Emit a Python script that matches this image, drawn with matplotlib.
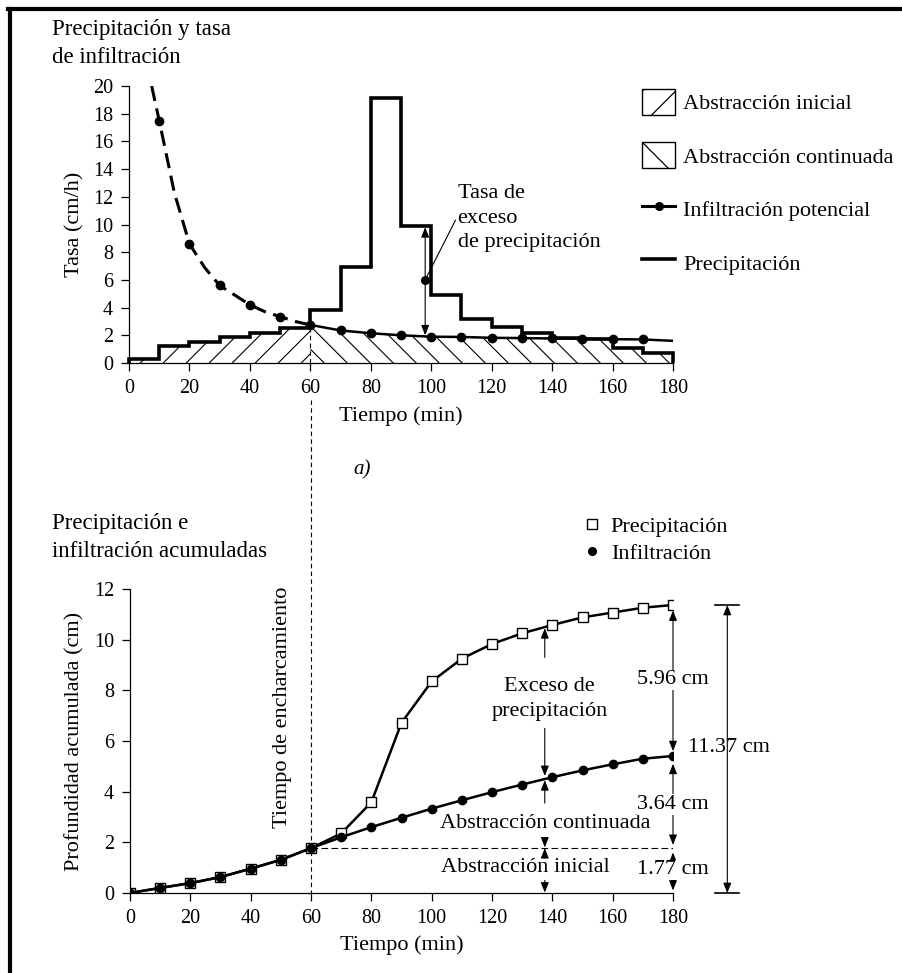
import numpy as np
import matplotlib
matplotlib.use('Agg')
import matplotlib.pyplot as plt
import matplotlib.transforms as mtransforms
from matplotlib.patches import Polygon, Patch
from matplotlib.lines import Line2D

plt.rcParams['font.family'] = ['Liberation Serif', 'DejaVu Serif']
plt.rcParams['hatch.linewidth'] = 0.9
plt.rcParams['axes.linewidth'] = 0.9

# --- datos (a): hietograma y tasa de infiltracion ---
rain_edges = [0, 10, 20, 30, 40, 50, 60, 70, 80, 90, 100, 110, 120, 130, 140, 150, 160, 170, 180]
rain_rate = [0.3, 1.2, 1.55, 1.9, 2.2, 2.5, 3.8, 6.9, 19.1, 9.9, 4.9, 3.2, 2.6, 2.2, 1.8, 1.7, 1.1, 0.7]

# curva de infiltracion potencial antes del encharcamiento (discontinua)
inf_dash_t = [7.5, 10, 15, 20, 25, 30, 35, 40, 45, 50, 55, 60]
inf_dash_rate = [20.0, 17.5, 12.3, 8.6, 6.9, 5.6, 4.9, 4.2, 3.7, 3.35, 3.0, 2.75]
# despues del encharcamiento (continua)
inf_solid_t = [60, 70, 80, 90, 100, 110, 120, 130, 140, 150, 160, 170, 180]
inf_solid_rate = [2.75, 2.35, 2.15, 2.0, 1.9, 1.88, 1.82, 1.8, 1.77, 1.75, 1.72, 1.7, 1.6]
# puntos marcados
inf_mark_t = [10, 20, 30, 40, 50, 60, 70, 80, 90, 100, 110, 120, 130, 140, 150, 160, 170]
inf_mark_rate = [17.5, 8.6, 5.6, 4.2, 3.35, 2.75, 2.35, 2.15, 2.0, 1.9, 1.88, 1.82, 1.8, 1.77, 1.75, 1.72, 1.7]

# --- datos (b): acumulados ---
cum_t = [0, 10, 20, 30, 40, 50, 60, 70, 80, 90, 100, 110, 120, 130, 140, 150, 160, 170, 180]
cum_rain = [0, 0.2, 0.39, 0.63, 0.96, 1.31, 1.77, 2.35, 3.58, 6.72, 8.35, 9.25, 9.83, 10.25,
            10.58, 10.88, 11.07, 11.26, 11.37]
cum_inf = [0, 0.2, 0.39, 0.63, 0.96, 1.31, 1.77, 2.2, 2.6, 2.97, 3.33, 3.66, 3.98, 4.28,
           4.57, 4.84, 5.08, 5.3, 5.41]

W, H = 903, 973
fig = plt.figure(figsize=(W / 100, H / 100), dpi=100)


def fx(px):
    return px / W


def fy(py):
    return 1 - py / H


ax1 = fig.add_axes([fx(129), fy(363), (673 - 129) / W, (363 - 86) / H])
ax2 = fig.add_axes([fx(130), fy(893), (673 - 130) / W, (893 - 589) / H])

for ax in (ax1, ax2):
    ax.spines[['top', 'right']].set_visible(False)
    ax.tick_params(direction='out', length=5.5, width=0.9, labelsize=14.5, pad=6)
    ax.set_xlim(0, 180)
    ax.set_xticks(range(0, 181, 20))
ax1.set_ylim(0, 20)
ax1.set_yticks(range(0, 21, 2))
ax2.set_ylim(0, 12)
ax2.set_yticks(range(0, 13, 2))


def hatch_region(ax, xs, ys, direction, step_px=23):
    poly = Polygon(np.column_stack([xs, ys]), closed=True, fc='none', ec='none')
    ax.add_patch(poly)
    bb = ax.get_position()
    ppx = bb.width * W / 180
    ppy = bb.height * H / (ax.get_ylim()[1] - ax.get_ylim()[0])
    k = direction * ppx / ppy
    for c in np.arange(-80, 280, step_px / ppx):
        xx = np.array([c - 120, c + 120])
        ax.plot(xx, k * (xx - c), color='black', lw=0.8, clip_path=poly)


# abstraccion inicial: bajo la lluvia hasta t=60
hx, hy = [0], [0]
for i in range(6):
    hx += [rain_edges[i], rain_edges[i + 1]]
    hy += [rain_rate[i], rain_rate[i]]
hx.append(60)
hy.append(0)
hatch_region(ax1, hx, hy, 1)

# abstraccion continuada: bajo min(infiltracion, lluvia) desde t=60
grid = np.linspace(60, 180, 1201)
f_top = np.interp(grid, inf_solid_t, inf_solid_rate)
idx = np.clip(np.searchsorted(rain_edges, grid, side='right') - 1, 0, len(rain_rate) - 1)
top = np.minimum(f_top, np.array(rain_rate)[idx])
hatch_region(ax1, np.r_[60, grid, 180], np.r_[0, top, 0], -1)

ax1.stairs(rain_rate, rain_edges, baseline=0, color='black', lw=2.6, clip_on=False, zorder=4)
ax1.plot(inf_dash_t, inf_dash_rate, color='black', lw=2.2, dashes=(5, 2.5), zorder=5)
ax1.plot(inf_solid_t, inf_solid_rate, color='black', lw=1.8, zorder=5)
ax1.plot(inf_mark_t, inf_mark_rate, 'o', color='black', ms=6, zorder=6)
ax1.plot([60, 60], [0, 2.75], color='black', lw=0.8, dashes=(4, 3))

arw = '<|-|>,head_length=0.5,head_width=0.2'
ax1.annotate('', xy=(98, 9.8), xytext=(98, 2.0),
             arrowprops=dict(arrowstyle=arw, color='black', lw=0.8,
                             shrinkA=0, shrinkB=0, mutation_scale=12))
ax1.plot([98], [6], 'o', color='black', ms=5.5)
ax1.plot([98, 108], [6, 10.3], color='black', lw=0.8)
ax1.text(108.7, 10.45, 'Tasa de\nexceso\nde precipitación', ha='left', va='center',
         fontsize=16, linespacing=1.38)

ax1.set_xlabel('Tiempo (min)', fontsize=16, labelpad=6)
ax1.set_ylabel('Tasa (cm/h)', fontsize=16, labelpad=6)

handles1 = [Patch(fc='white', ec='black', hatch='/', lw=1),
            Patch(fc='white', ec='black', hatch='\\', lw=1),
            Line2D([], [], color='black', lw=2.2, marker='o', ms=5.5),
            Line2D([], [], color='black', lw=2.6)]
labels1 = ['Abstracción inicial', 'Abstracción continuada', 'Infiltración potencial', 'Precipitación']
ax1.legend(handles1, labels1, loc='upper left', bbox_to_anchor=(fx(642), fy(89)),
           bbox_transform=fig.transFigure, frameon=False, fontsize=16,
           handlelength=1.5, handleheight=1.4, handletextpad=0.35,
           labelspacing=1.25, borderpad=0, borderaxespad=0)

# --- (b) ---
ax2.plot(cum_t, cum_rain, '-', color='black', lw=1.8, marker='s', ms=7.5,
         mfc='white', mec='black', mew=1, zorder=4)
ax2.plot(cum_t, cum_inf, '-', color='black', lw=1.8, marker='o', ms=6, zorder=5)
ax2.plot([60, 180], [1.77, 1.77], color='black', lw=0.8, dashes=(6, 3))

ax2.set_xlabel('Tiempo (min)', fontsize=16, labelpad=5)
ax2.set_ylabel('Profundidad acumulada (cm)', fontsize=16, labelpad=6.5)

handles2 = [Line2D([], [], ls='none', marker='s', ms=7, mfc='white', mec='black', mew=1),
            Line2D([], [], ls='none', marker='o', ms=5.5, color='black')]
ax2.legend(handles2, ['Precipitación', 'Infiltración'], loc='upper left',
           bbox_to_anchor=(fx(583), fy(516)), bbox_transform=fig.transFigure,
           frameon=False, fontsize=16, handlelength=0.8, handletextpad=0.45,
           labelspacing=0.3, borderpad=0, borderaxespad=0)


def arrow(ax, x, y0, y1, style='-|>'):
    ax.annotate('', xy=(x, y1), xytext=(x, y0), annotation_clip=False,
                arrowprops=dict(arrowstyle=style + ',head_length=0.5,head_width=0.2',
                                color='black', lw=0.8, shrinkA=0, shrinkB=0,
                                mutation_scale=12))


arrow(ax2, 137.5, 9.3, 10.45)
ax2.text(139, 7.66, 'Exceso de\nprecipitación', ha='center', va='center', fontsize=16,
         linespacing=1.38)
arrow(ax2, 137.5, 6.5, 4.62)
arrow(ax2, 137.5, 3.55, 4.45)
ax2.text(137.6, 2.76, 'Abstracción continuada', ha='center', va='center', fontsize=16)
arrow(ax2, 137.5, 2.2, 1.8)
arrow(ax2, 137.5, 1.38, 1.77)
ax2.text(131, 0.99, 'Abstracción inicial', ha='center', va='center', fontsize=16)
arrow(ax2, 137.5, 0.5, 0.02)

arrow(ax2, 180, 5.6, 11.15, '<|-|>')
arrow(ax2, 180, 5.1, 1.9, '<|-|>')
arrow(ax2, 180, 1.6, 0.1, '<|-|>')
box = dict(fc='white', ec='none', pad=0.5)
ax2.text(180, 8.42, '5.96 cm', ha='center', va='center', fontsize=16, bbox=box)
ax2.text(180, 3.49, '3.64 cm', ha='center', va='center', fontsize=16, bbox=box)
ax2.text(180, 0.92, '1.77 cm', ha='center', va='center', fontsize=16, bbox=box)
ax2.text(185, 5.74, '11.37 cm', ha='left', va='center', fontsize=16)

arrow(ax2, 198, 0, 11.37, '<|-|>')
for yv in (0, 11.37):
    ax2.plot([194, 202], [yv, yv], color='black', lw=1.2, clip_on=False)

ax2.text(50.7, 7.33, 'Tiempo de encharcamiento', rotation=90, ha='center', va='center',
         fontsize=16)

# linea vertical del tiempo de encharcamiento entre ambos graficos
trans = mtransforms.blended_transform_factory(ax2.transData, fig.transFigure)
fig.add_artist(Line2D([60, 60], [fy(400), fy(893)], transform=trans, color='black',
                      lw=0.8, dashes=(4, 3)))

fig.text(fx(52), fy(43.5), 'Precipitación y tasa\nde infiltración', ha='left', va='center',
         fontsize=16.5, linespacing=1.45)
fig.text(fx(52), fy(537.5), 'Precipitación e\ninfiltración acumuladas', ha='left',
         va='center', fontsize=16.5, linespacing=1.45)
fig.text(fx(362), fy(470), 'a)', ha='center', va='center', fontsize=15, style='italic')

# marco
fig.add_artist(Line2D([fx(8), 1], [fy(9), fy(9)], transform=fig.transFigure, color='black', lw=3))
fig.add_artist(Line2D([fx(10.5), fx(10.5)], [0, fy(9)], transform=fig.transFigure, color='black', lw=3))

fig.savefig('out.png', dpi=100)
